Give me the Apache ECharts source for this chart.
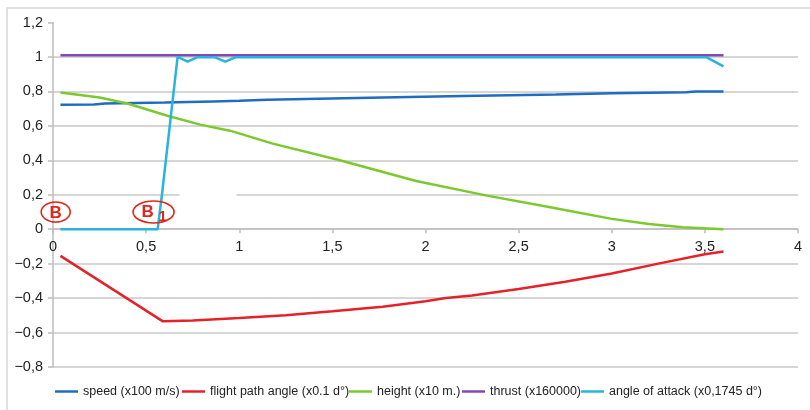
<!DOCTYPE html>
<html>
<head>
<meta charset="utf-8">
<script src="https://cdn.jsdelivr.net/npm/echarts@6/dist/echarts.min.js"></script>
<style>
  html, body { margin: 0; padding: 0; background: #fff; }
  #chart { width: 810px; height: 410px; }
</style>
</head>
<body>
<div id="chart"></div>
<script>
// Series names (legend order)
const seriesNames = [
  'speed (x100 m/s)',
  'flight path angle (x0.1 d°)',
  'height (x10 m.)',
  'thrust (x160000)',
  'angle of attack (x0,1745 d°)'
];

// [time, scaled value] samples for each series
const speed = [
  [0.04, 0.722], [0.22, 0.724], [0.28, 0.730], [0.60, 0.735], [0.86, 0.742],
  [1.00, 0.746], [1.15, 0.752], [1.70, 0.763], [2.20, 0.773], [2.70, 0.782],
  [3.00, 0.789], [3.40, 0.795], [3.45, 0.799], [3.60, 0.800]
];
const flightPathAngle = [
  [0.04, -0.155], [0.59, -0.535], [0.75, -0.530], [1.00, -0.516], [1.25, -0.500],
  [1.50, -0.477], [1.77, -0.450], [2.00, -0.418], [2.11, -0.400], [2.25, -0.385],
  [2.50, -0.347], [2.75, -0.305], [3.00, -0.257], [3.25, -0.200], [3.50, -0.145],
  [3.60, -0.130]
];
const height = [
  [0.04, 0.793], [0.25, 0.765], [0.40, 0.730], [0.61, 0.660], [0.79, 0.607],
  [0.95, 0.572], [1.18, 0.497], [1.54, 0.400], [1.95, 0.280], [2.33, 0.195],
  [2.67, 0.127], [3.00, 0.060], [3.20, 0.030], [3.38, 0.012], [3.60, 0.000]
];
const thrust = [
  [0.04, 1.01], [3.60, 1.01]
];
const angleOfAttack = [
  [0.04, 0.000], [0.562, 0.000], [0.585, 0.200], [0.669, 1.000], [0.723, 0.973],
  [0.773, 0.998], [0.87, 0.998], [0.925, 0.973], [0.978, 0.998], [3.51, 0.998],
  [3.60, 0.945]
];

const seriesColors = ['#1f6cc0', '#e52229', '#7cc92f', '#8448b5', '#28b4dc'];
const seriesData = [speed, flightPathAngle, height, thrust, angleOfAttack];

// Axis ranges
const xMin = 0, xMax = 4, xStep = 0.5;
const yMin = -0.8, yMax = 1.2, yStep = 0.2;

// Plot area
const GRID = { left: 53, right: 12, top: 22.5, bottom: 43 };
const CHART_H = 410;
const plotH = CHART_H - GRID.top - GRID.bottom;
// lift the time axis (line, ticks, labels) up to the y = 0 level
const xAxisLift = -plotH * (0 - yMin) / (yMax - yMin);

// Legend item start positions (px)
const legendLefts = [55, 182, 349, 462, 581];

const FONT = '"Liberation Sans", Arial, Helvetica, sans-serif';
const GRID_COLOR = '#c9c9c9';
const AXIS_COLOR = '#bdbdbd';

function fmt(v) {
  const r = Math.round(v * 10) / 10;
  return String(r).replace('.', ',').replace('-', '\u2212');
}

const chart = echarts.init(document.getElementById('chart'), null, { renderer: 'canvas' });

chart.setOption({
  animation: false,
  backgroundColor: '#fff',
  textStyle: { fontFamily: FONT },
  grid: Object.assign({ containLabel: false }, GRID),
  legend: seriesNames.map((name, i) => ({
    data: [name],
    left: legendLefts[i],
    top: 385,
    padding: 0,
    icon: 'rect',
    itemWidth: 23,
    itemHeight: 2.5,
    itemGap: 0,
    textStyle: { fontSize: 12.5, color: '#222', fontFamily: FONT },
    selectedMode: false
  })),
  xAxis: {
    type: 'value',
    min: xMin, max: xMax, interval: xStep,
    position: 'bottom',
    offset: xAxisLift,
    axisLine: { show: true, onZero: false, lineStyle: { color: AXIS_COLOR, width: 1.5 } },
    axisTick: { show: true, length: 4, lineStyle: { color: AXIS_COLOR, width: 1.5 } },
    axisLabel: { fontSize: 14.5, color: '#222', margin: 10, formatter: fmt, fontFamily: FONT },
    splitLine: { show: false }
  },
  yAxis: {
    type: 'value',
    min: yMin, max: yMax, interval: yStep,
    axisLine: { show: true, onZero: false, lineStyle: { color: AXIS_COLOR, width: 1.5 } },
    axisTick: { show: true, length: 5, lineStyle: { color: AXIS_COLOR, width: 1.5 } },
    axisLabel: { fontSize: 14.5, color: '#222', margin: 10, formatter: fmt, fontFamily: FONT },
    splitLine: { show: true, showMaxLine: false, lineStyle: { color: GRID_COLOR, width: 1.5 } }
  },
  series: seriesNames.map((name, i) => ({
    name: name,
    type: 'line',
    data: seriesData[i],
    symbol: 'none',
    smooth: false,
    color: seriesColors[i],
    lineStyle: { color: seriesColors[i], width: 2.5 },
    z: 2 + i
  }))
});

// Annotations "B" and "B1" anchored in data space
const toPx = (p) => chart.convertToPixel({ gridIndex: 0 }, p);
const bPos = toPx([0.0145, 0.10]);
const b1Pos = toPx([0.54, 0.10]);
const gapA = toPx([0.68, 0.2]);
const gapB = toPx([0.985, 0.2]);
const RED = '#e0261e';

chart.setOption({
  graphic: [
    // chart area frame
    { type: 'rect', silent: true, z: 0,
      shape: { x: 7, y: 8, width: 830, height: 430 },
      style: { fill: 'none', stroke: '#d6d6d6', lineWidth: 1.5 } },
    // break in the 0.2 gridline behind the label box
    { type: 'rect', silent: true, z: 1,
      shape: { x: gapA[0], y: gapA[1] - 2.5, width: gapB[0] - gapA[0], height: 5 },
      style: { fill: '#fff' } },
    { type: 'ellipse', silent: true, z: 20,
      shape: { cx: bPos[0], cy: bPos[1], rx: 14.5, ry: 10 },
      style: { fill: 'rgba(255,255,255,0)', stroke: RED, lineWidth: 1.6 } },
    { type: 'text', silent: true, z: 21,
      x: bPos[0], y: bPos[1] + 1,
      style: { text: 'B', fill: RED, font: 'bold 17px ' + FONT, align: 'center', verticalAlign: 'middle' } },
    { type: 'ellipse', silent: true, z: 20,
      shape: { cx: b1Pos[0], cy: b1Pos[1], rx: 20.5, ry: 11 },
      style: { fill: 'rgba(255,255,255,0)', stroke: RED, lineWidth: 1.6 } },
    { type: 'text', silent: true, z: 21,
      x: b1Pos[0] - 6, y: b1Pos[1] + 0.5,
      style: { text: 'B', fill: RED, font: 'bold 17px ' + FONT, align: 'center', verticalAlign: 'middle' } },
    { type: 'text', silent: true, z: 22,
      x: b1Pos[0] + 9, y: b1Pos[1] + 5,
      style: { text: '1', fill: RED, font: 'bold 15px ' + FONT, align: 'center', verticalAlign: 'middle' } }
  ]
});
</script>
</body>
</html>
